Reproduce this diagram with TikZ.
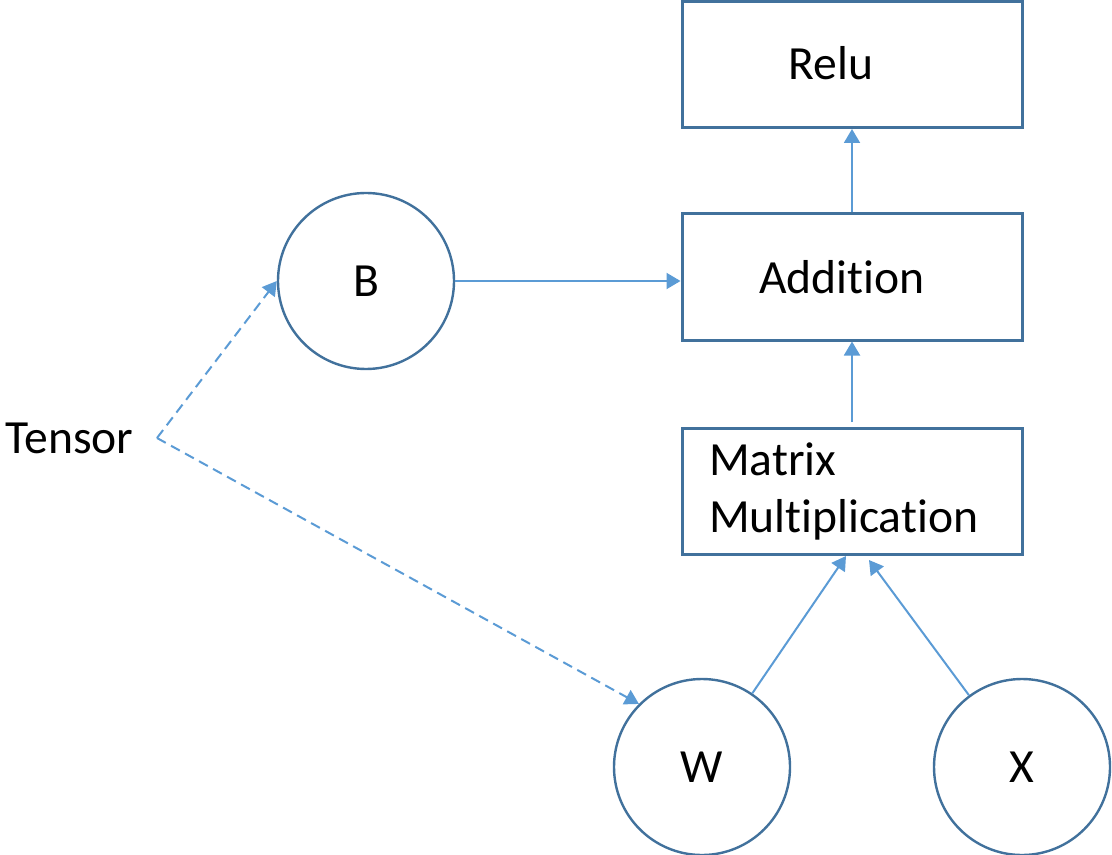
\documentclass[tikz,border=0pt]{standalone}
\usepackage{fontspec}
\setmainfont{Carlito}[RawFeature={-liga}]
\usetikzlibrary{arrows.meta}
\definecolor{edgeblue}{HTML}{41719C}
\definecolor{linkblue}{HTML}{5B9BD5}
\begin{document}
\begin{tikzpicture}[x=0.5pt,y=-0.5pt,
  font=\fontsize{23.8pt}{28.5pt}\selectfont,
  opbox/.style={draw=edgeblue,line width=1.5pt,fill=white,minimum width=170pt,minimum height=63pt,inner sep=0pt},
  varnode/.style={circle,draw=edgeblue,line width=1.2pt,fill=white,minimum size=88pt,inner sep=0pt},
  arr/.style={draw=linkblue,line width=1pt,-{Triangle[length=7pt,width=8pt]}},
  dasharr/.style={arr,dash pattern=on 5pt off 3pt}]
\useasboundingbox (0,0) rectangle (1112,855);

% operation boxes
\node[opbox] (relu) at (852,64.5) {\raisebox{2pt}{Relu}\kern21pt};
\node[opbox] (add) at (852,277) {Addition\kern10pt};
\node[opbox,text width=143pt,inner xsep=13.5pt,align=left] (mm) at (852,491.5) {Matrix\\Multiplication};

% variable nodes
\node[varnode] (B) at (366,281) {B};
\node[varnode] (W) at (702,767) {W};
\node[varnode] (X) at (1022,767) {X};

% tensor label
\node[inner sep=0pt,anchor=base west] (tensor) at (5,453) {Tensor};
\coordinate (T) at (157,438);

% data flow
\draw[arr] (B) -- (add.west |- B);
\draw[arr] (add) -- (relu);
\draw[arr] ([yshift=2.5pt]mm.north) -- (add.south);
\draw[arr] (W) -- ([xshift=-3pt]mm.south);
\draw[arr] (X) -- ([xshift=8.5pt,yshift=-2pt]mm.south);

% tensor annotations
\draw[dasharr] (T) -- (B.west);
\draw[dasharr] (T) -- (W.north west);
\end{tikzpicture}
\end{document}
